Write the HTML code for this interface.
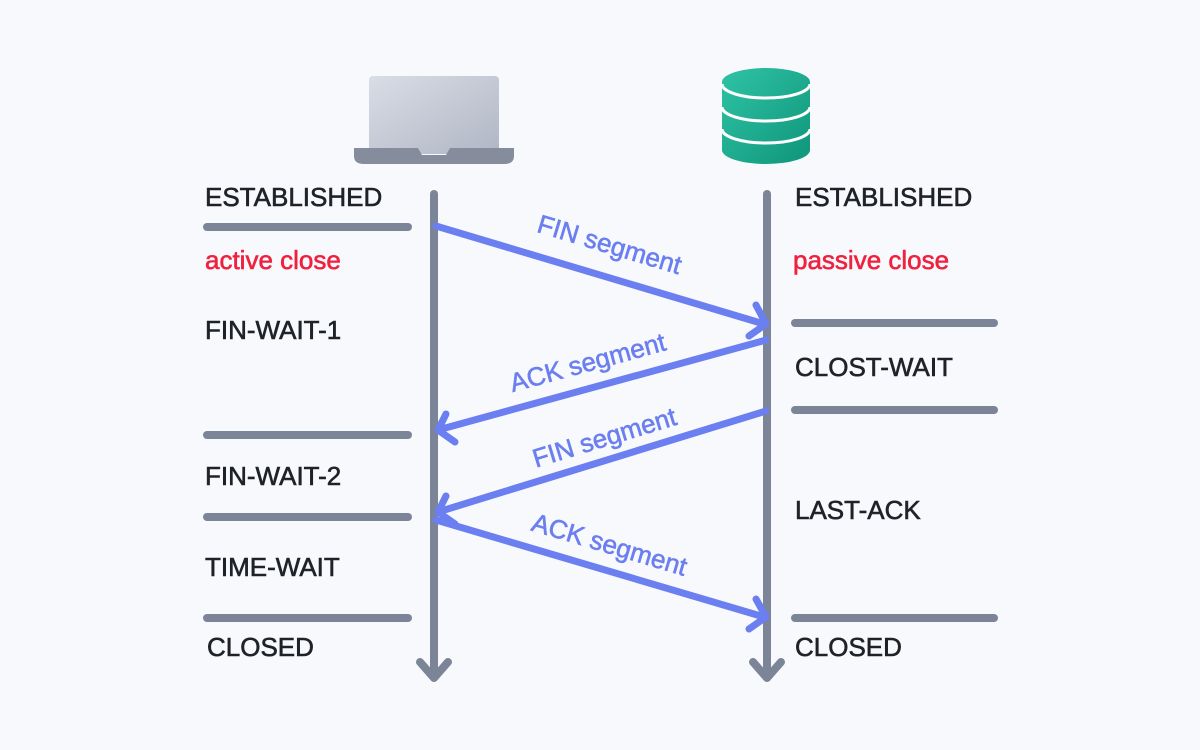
<!DOCTYPE html>
<html><head><style>
body{margin:0;background:#f8f9fc;}
svg{display:block}
text{font-family:"Liberation Sans",sans-serif;font-size:26px;stroke-width:0.6;}
</style></head><body>
<svg width="1200" height="750" viewBox="0 0 1200 750" xmlns="http://www.w3.org/2000/svg">
<defs>
<linearGradient id="lg" x1="0" y1="0" x2="1" y2="1"><stop offset="0" stop-color="#d9dde6"/><stop offset="1" stop-color="#b0b6c4"/></linearGradient>
<linearGradient id="tg" x1="0" y1="0" x2="1" y2="1"><stop offset="0" stop-color="#2fc3a5"/><stop offset="1" stop-color="#0f957a"/></linearGradient>
</defs>
<rect width="1200" height="750" fill="#f8f9fc"/>
<!-- laptop -->
<rect x="369" y="76" width="130" height="78" rx="4" fill="url(#lg)"/>
<path d="M354 148 H418 L422 155 H446 L450 148 H514 V156 Q514 164 504 164 H364 Q354 164 354 156 Z" fill="#858c9c"/>
<!-- database -->
<path d="M722 82 A44 14 0 0 1 810 82 V150 A44 14 0 0 1 722 150 Z" fill="url(#tg)"/>
<g stroke="#ffffff" stroke-width="3" fill="none">
<path d="M722 84 A44 14 0 0 0 810 84"/>
<path d="M722 107 A44 14 0 0 0 810 107"/>
<path d="M722 129 A44 14 0 0 0 810 129"/>
</g>
<g stroke="#7c8597" stroke-width="8" stroke-linecap="round" fill="none">
<line x1="434" y1="194" x2="434" y2="676"/>
<line x1="767" y1="194" x2="767" y2="676"/>
<polyline points="420,662 434,678 448,662" stroke-linejoin="round"/>
<polyline points="753,662 767,678 781,662" stroke-linejoin="round"/>
<line x1="207" y1="227" x2="408" y2="227"/>
<line x1="207" y1="435" x2="408" y2="435"/>
<line x1="207" y1="517" x2="408" y2="517"/>
<line x1="207" y1="618" x2="408" y2="618"/>
<line x1="795" y1="323" x2="994" y2="323"/>
<line x1="795" y1="410" x2="994" y2="410"/>
<line x1="795" y1="618" x2="994" y2="618"/>
</g>
<g stroke="#6b7ff0" stroke-width="7" stroke-linecap="round" stroke-linejoin="round" fill="none">
<line x1="436" y1="226" x2="764" y2="324"/>
<polyline points="756,305 766,324 749,336"/>
<line x1="766" y1="340" x2="438" y2="430"/>
<polyline points="446,414 438,430 455,442"/>
<line x1="766" y1="411" x2="438" y2="512"/>
<polyline points="446,496 438,512 455,524"/>
<line x1="436" y1="520" x2="764" y2="617"/>
<polyline points="756,599 766,617 749,629"/>
</g>
<g fill="#6b7ff0" stroke="#6b7ff0" text-anchor="middle" style="font-size:27px">
<text transform="translate(607,253) rotate(16.7)">FIN segment</text>
<text transform="translate(590,371) rotate(-15.3)">ACK segment</text>
<text transform="translate(607,446) rotate(-17)">FIN segment</text>
<text transform="translate(607,553) rotate(16.6)">ACK segment</text>
</g>
<g fill="#1f2328" stroke="#1f2328">
<text x="205" y="206">ESTABLISHED</text>
<text x="205" y="339">FIN-WAIT-1</text>
<text x="205" y="485">FIN-WAIT-2</text>
<text x="205" y="576">TIME-WAIT</text>
<text x="207" y="656">CLOSED</text>
<text x="795" y="206">ESTABLISHED</text>
<text x="795" y="376">CLOST-WAIT</text>
<text x="795" y="519">LAST-ACK</text>
<text x="795" y="656">CLOSED</text>
</g>
<g fill="#f0213f" stroke="#f0213f">
<text x="205" y="269">active close</text>
<text x="793" y="269">passive close</text>
</g>
</svg>
</body></html>
